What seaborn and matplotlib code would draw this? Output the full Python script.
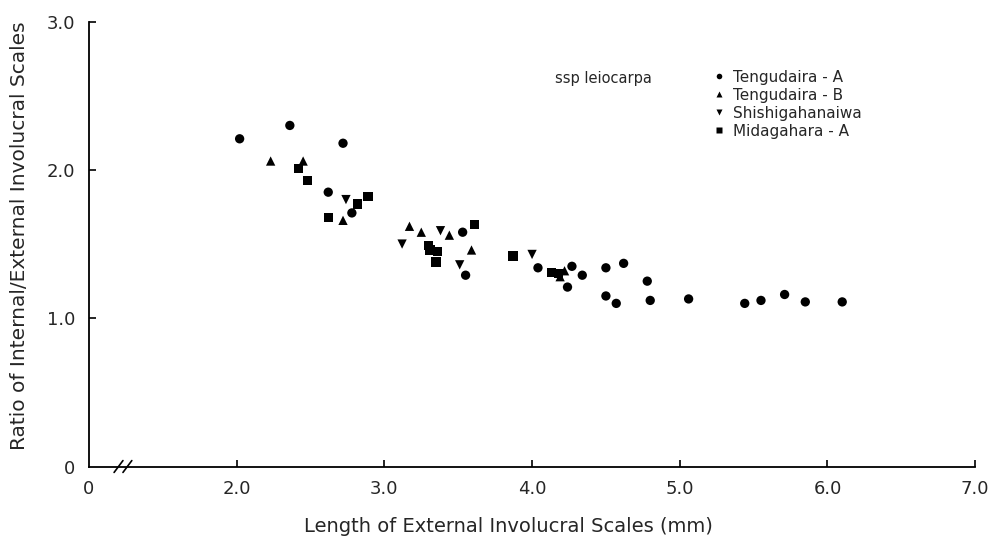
import pandas as pd
import seaborn as sns
import matplotlib.pyplot as plt

# points (length mm, ratio)
tengu_a_x = [2.02, 2.36, 2.72, 2.62, 2.78, 3.53, 3.55, 4.04, 4.27, 4.34, 4.24, 4.50,
             4.62, 4.50, 4.57, 4.78, 4.80, 5.06, 5.44, 5.55, 5.71, 5.85, 6.10]
tengu_a_y = [2.21, 2.30, 2.18, 1.85, 1.71, 1.58, 1.29, 1.34, 1.35, 1.29, 1.21, 1.34,
             1.37, 1.15, 1.10, 1.25, 1.12, 1.13, 1.10, 1.12, 1.16, 1.11, 1.11]
tengu_b_x = [2.23, 2.45, 2.72, 3.17, 3.25, 3.44, 3.59, 4.19, 4.22]
tengu_b_y = [2.06, 2.06, 1.66, 1.62, 1.58, 1.56, 1.46, 1.28, 1.32]
shishi_x = [2.74, 3.12, 3.38, 3.51, 4.00]
shishi_y = [1.80, 1.50, 1.59, 1.36, 1.43]
mida_x = [2.42, 2.48, 2.62, 2.82, 2.89, 3.61, 3.30, 3.31, 3.36, 3.35, 3.87, 4.13, 4.18]
mida_y = [2.01, 1.93, 1.68, 1.77, 1.82, 1.63, 1.49, 1.46, 1.45, 1.38, 1.42, 1.31, 1.30]

sites = ['Tengudaira - A', 'Tengudaira - B', 'Shishigahanaiwa', 'Midagahara - A']
xticks = [1, 2, 3, 4, 5, 6, 7]
xtick_labels = ['0', '2.0', '3.0', '4.0', '5.0', '6.0', '7.0']
yticks = [0, 1, 2, 3]
ytick_labels = ['0', '1.0', '2.0', '3.0']

df = pd.concat([
    pd.DataFrame({'x': tengu_a_x, 'y': tengu_a_y, 'site': sites[0]}),
    pd.DataFrame({'x': tengu_b_x, 'y': tengu_b_y, 'site': sites[1]}),
    pd.DataFrame({'x': shishi_x, 'y': shishi_y, 'site': sites[2]}),
    pd.DataFrame({'x': mida_x, 'y': mida_y, 'site': sites[3]}),
])

sns.set_style('ticks')
plt.rcParams['font.family'] = ['DejaVu Sans']

fig = plt.figure(figsize=(9.92, 5.41), dpi=100)
ax = fig.add_axes([0.0897, 0.1377, 0.8933, 0.8223])

sns.scatterplot(data=df, x='x', y='y', style='site', style_order=sites,
                markers={sites[0]: 'o', sites[1]: '^', sites[2]: 'v', sites[3]: 's'},
                color='black', edgecolor='none', s=45, ax=ax)

ax.set_xlim(1, 7)
ax.set_ylim(0, 3)
ax.set_xticks(xticks)
ax.set_xticklabels(xtick_labels)
ax.set_yticks(yticks)
ax.set_yticklabels(ytick_labels)
ax.tick_params(direction='in', length=5, width=1.2, color='black', labelsize=13, pad=10)
ax.xaxis.get_major_ticks()[0].tick1line.set_visible(False)
ax.yaxis.get_major_ticks()[0].tick1line.set_visible(False)
for s in ['left', 'bottom']:
    ax.spines[s].set_linewidth(1.3)
    ax.spines[s].set_color('black')
sns.despine(ax=ax)

# axis break mark
for bx in [1.2, 1.26]:
    ax.plot([bx - 0.03, bx + 0.03], [-0.04, 0.04], color='black', lw=1.2, clip_on=False)

ax.set_xlabel('Length of External Involucral Scales (mm)', fontsize=14)
ax.xaxis.set_label_coords(0.473, -0.113)
ax.set_ylabel('Ratio of Internal/External Involucral Scales', fontsize=14.5)
ax.yaxis.set_label_coords(-0.068, 0.518)

handles, labels = ax.get_legend_handles_labels()
ax.legend(handles, labels, loc='upper left', bbox_to_anchor=(704 / 992, 1 - 62 / 541),
          bbox_transform=fig.transFigure, frameon=False, fontsize=11, markerscale=0.6,
          handlelength=1.0, handletextpad=0.4, labelspacing=0.2, borderpad=0)
fig.text(555 / 992, 1 - 78 / 541, 'ssp leiocarpa', fontsize=10.5, va='center')

fig.savefig('out.png', dpi=100)
